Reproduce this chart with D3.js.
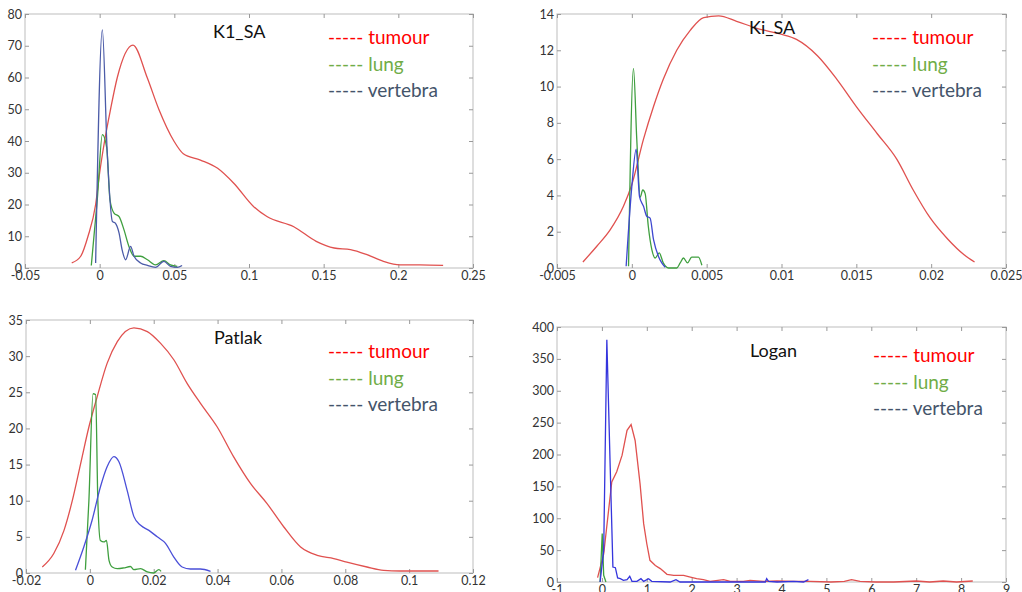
<!DOCTYPE html>
<html lang="en">
<head>
  <meta charset="UTF-8">
  <title>kinetic parameter distributions</title>
  <style>
    body { margin: 0; background: #fff; }
    svg { display: block; }
    .tick text { font-family: Lato, "Open Sans", sans-serif; font-size: 12.5px; fill: #333; }
    .title { font-family: Lato, "Open Sans", sans-serif; font-size: 18px; fill: #111; }
    .legend text { font-family: Lato, "Open Sans", sans-serif; font-size: 19px; }
  </style>
</head>
<body>
<script src="https://d3js.org/d3.v7.min.js"></script>
<script>
  // K1_SA
  const k1Tumour = [[-0.0187,1.6],[-0.0127,3.7],[-0.0078,10],[-0.0027,20],[0,30],[0.0033,40],[0.0073,50],[0.0118,60],
    [0.0223,70.2],[0.0318,60],[0.0396,50],[0.0497,40],[0.056,36],[0.0675,34],[0.079,31.4],[0.0898,26.7],[0.103,19.4],
    [0.112,16.2],[0.13,13],[0.145,8.4],[0.157,6.3],[0.168,5.8],[0.179,4.2],[0.19,2.1],[0.201,1],[0.2145,1],[0.23,0.8]]
  const k1Lung = [[-0.0056,0.8],[-0.0016,21.5],[0.0018,42],[0.0047,38],[0.0069,21.5],[0.0096,17.3],[0.013,16.2],
    [0.0163,12],[0.0196,6.8],[0.023,3.7],[0.0274,3.7],[0.032,2.6],[0.0374,1],[0.043,2.3],[0.0474,1],[0.052,0.5]]
  const k1Vert = [[-0.0027,1.6],[0.0018,75],[0.005,37],[0.0085,14.7],[0.0107,14],[0.013,11],[0.015,5.8],[0.0174,2.6],
    [0.0207,6.8],[0.023,3.7],[0.0274,1.6],[0.032,0.8],[0.0374,0.2],[0.043,2.1],[0.0474,0.5],[0.052,0.2],[0.0552,0.8]]

  // Ki_SA
  const kiTumour = [[-0.00327,0.33],[-0.00234,1.2],[-0.00145,2.1],[-0.00056,3.4],[0,4.6],[0.00078,7.1],[0.00145,8.9],
    [0.0021,10.4],[0.003,12],[0.0039,13.1],[0.0048,13.8],[0.0058,13.9],[0.007,13.6],[0.0084,13.2],[0.0099,12.9],
    [0.011,12.6],[0.0124,11.7],[0.0137,10.4],[0.015,8.9],[0.0164,7.4],[0.0177,6.0],[0.0188,4.3],[0.0199,2.8],
    [0.0211,1.6],[0.0222,0.73],[0.0229,0.33]]
  const kiLung = [[-0.00022,0.1],[0.00011,11],[0.00033,7.1],[0.00056,3.9],[0.00073,4.3],[0.00089,4.1],[0.0011,2.3],
    [0.00134,1],[0.00156,0.55],[0.00183,0.83],[0.0021,0.28],[0.00245,0],[0.003,0],[0.00323,0.28],[0.00345,0.55],
    [0.00372,0.28],[0.004,0.6],[0.00445,0.6],[0.00468,0.15]]
  const kiVert = [[-0.00038,0.1],[0,4.5],[0.00029,6.55],[0.00051,3.95],[0.00078,3.4],[0.001,2.85],[0.00122,2.75],
    [0.00145,1.56],[0.00178,0.64],[0.002,0.28],[0.00223,0.04]]

  // Patlak
  const patTumour = [[-0.0149,0.83],[-0.0113,2.7],[-0.0081,5.9],[-0.0055,10],[-0.0029,15.1],[-0.0003,20.2],[0.0023,24.4],
    [0.0054,29],[0.0086,32],[0.0138,33.9],[0.018,33.4],[0.0221,31.8],[0.0263,29.5],[0.0305,26.2],[0.0346,23.5],
    [0.0399,20.2],[0.045,16.1],[0.0503,12.4],[0.0555,9.6],[0.0607,6.4],[0.066,3.6],[0.0712,2.45],[0.0764,2],
    [0.0805,1.5],[0.0868,0.83],[0.092,0.37],[0.0972,0.28],[0.1092,0.28]]
  const patLung = [[-0.0014,0.46],[-0.0003,10],[0.001,24.8],[0.0018,24.7],[0.0025,10],[0.0033,4.5],[0.0044,4.3],
    [0.0052,4.5],[0.006,1.75],[0.007,0.83],[0.0086,0.6],[0.0106,0.7],[0.0127,0.9],[0.0138,0.46],[0.0159,0.6],
    [0.018,0.14],[0.02,0],[0.0216,0.46],[0.0223,0.23]]
  const patVert = [[-0.0045,0.37],[-0.0019,3.6],[0.0007,7.3],[0.0033,11.9],[0.0054,14.7],[0.0075,16.1],[0.0091,15.4],
    [0.0117,11.4],[0.0138,7.8],[0.0159,6.6],[0.0185,5.9],[0.0211,5],[0.0237,4.1],[0.0263,2.2],[0.0289,0.83],
    [0.0315,0.55],[0.0346,0.55],[0.0378,0.23]]

  // Logan
  const loganTumour = [[-0.096,6.8],[0.04,44],[0.22,157],[0.33,173],[0.45,199],[0.56,238],[0.65,247],[0.74,222],
    [0.85,154],[0.93,91.5],[1.0,60],[1.07,34],[1.19,26],[1.3,21],[1.45,12],[1.6,10.5],[1.82,10.5],[1.97,7.8],
    [2.11,5.2],[2.26,3.7],[2.41,1],[2.71,3.7],[2.86,1],[3.15,1],[3.3,2.6],[3.6,1],[3.9,1.6],[4.27,1],[4.64,1],
    [5.1,0],[5.4,1],[5.56,3.7],[5.75,1],[6.1,0],[6.5,0],[7.0,1.6],[7.3,0],[7.6,1.6],[7.9,0],[8.26,1.6]]
  const loganLung = [[-0.04,0],[0.007,76],[0.04,10.5],[0.09,0]]
  const loganVert = [[-0.04,0],[0.04,50],[0.11,380],[0.185,180],[0.245,23.5],[0.3,22.5],[0.35,6.3],[0.41,5.2],
    [0.48,2.6],[0.56,3.7],[0.62,8.9],[0.67,1],[0.78,1],[0.87,5.2],[0.93,1],[1.04,5.2],[1.11,1],[1.52,0],[1.65,3.7],
    [1.74,0],[2.41,0],[3.15,0],[3.64,0],[3.67,5.2],[3.71,1],[3.9,0],[4.27,1],[4.49,0],[4.6,3.7]]

  const legendLabels = ['tumour', 'lung', 'vertebra']
  const legendColors = ['#ff0000', '#70ad47', '#44546a']

  const panels = [
    { title: 'K1_SA', x: [-0.05, 0.25], xStep: 0.05, y: [0, 80], yStep: 10,
      box: [25, 14, 473, 268], titlePos: [213, 38], legendPos: [328, 44],
      series: [k1Tumour, k1Lung, k1Vert], colors: ['#e0514f', '#3f9f3f', '#4b5ba8'], curve: d3.curveMonotoneX },
    { title: 'Ki_SA', x: [-0.005, 0.025], xStep: 0.005, y: [0, 14], yStep: 2,
      box: [557, 14, 1006, 268], titlePos: [749, 34], legendPos: [872, 44],
      series: [kiTumour, kiLung, kiVert], colors: ['#e0514f', '#3f9f3f', '#3e48d0'], curve: d3.curveMonotoneX },
    { title: 'Patlak', x: [-0.02, 0.12], xStep: 0.02, y: [0, 35], yStep: 5,
      box: [26, 320, 473, 573], titlePos: [214, 344], legendPos: [328, 358],
      series: [patTumour, patLung, patVert], colors: ['#e0514f', '#3f9f3f', '#4a4fd8'], curve: d3.curveMonotoneX },
    { title: 'Logan', x: [-1, 9], xStep: 1, y: [0, 400], yStep: 50,
      box: [557, 327, 1006, 582], titlePos: [750, 357], legendPos: [873, 362],
      series: [loganTumour, loganLung, loganVert], colors: ['#e0514f', '#3f9f3f', '#3535dd'], curve: d3.curveLinear }
  ]

  const svg = d3.select('body').append('svg')
    .attr('width', 1022)
    .attr('height', 592)

  const fmt = d => String(+d.toFixed(4))

  panels.forEach(p => {
    const [x0, y0, x1, y1] = p.box
    const xScale = d3.scaleLinear().domain(p.x).range([x0, x1])
    const yScale = d3.scaleLinear().domain(p.y).range([y1, y0])
    const xTicks = d3.range(p.x[0], p.x[1] + p.xStep / 2, p.xStep)
    const yTicks = d3.range(p.y[0], p.y[1] + p.yStep / 2, p.yStep)

    const g = svg.append('g')

    // frame
    g.append('rect')
      .attr('x', x0).attr('y', y0)
      .attr('width', x1 - x0).attr('height', y1 - y0)
      .attr('fill', 'none').attr('stroke', '#c8c8c8').attr('stroke-width', 1.2)

    // axes with inward ticks on every side
    const axes = [
      [d3.axisBottom(xScale).tickValues(xTicks).tickSizeInner(-4).tickSizeOuter(0).tickPadding(3).tickFormat(fmt), `translate(0,${y1})`],
      [d3.axisTop(xScale).tickValues(xTicks).tickSizeInner(-4).tickSizeOuter(0).tickFormat(''), `translate(0,${y0})`],
      [d3.axisLeft(yScale).tickValues(yTicks).tickSizeInner(-4).tickSizeOuter(0).tickPadding(3).tickFormat(fmt), `translate(${x0},0)`],
      [d3.axisRight(yScale).tickValues(yTicks).tickSizeInner(-4).tickSizeOuter(0).tickFormat(''), `translate(${x1},0)`]
    ]
    axes.forEach(([ax, tr]) => {
      const a = g.append('g').attr('transform', tr).call(ax)
      a.select('.domain').remove()
      a.selectAll('.tick line').attr('stroke', '#999')
    })

    // curves
    const line = d3.line()
      .x(d => xScale(d[0]))
      .y(d => yScale(d[1]))
      .curve(p.curve)
    p.series.forEach((s, i) => {
      g.append('path')
        .datum(s)
        .attr('d', line)
        .attr('fill', 'none')
        .attr('stroke', p.colors[i])
        .attr('stroke-width', 1.3)
    })

    g.append('text')
      .attr('class', 'title')
      .attr('x', p.titlePos[0]).attr('y', p.titlePos[1])
      .text(p.title)

    const lg = g.append('g').attr('class', 'legend')
    legendLabels.forEach((lab, i) => {
      lg.append('text')
        .attr('x', p.legendPos[0]).attr('y', p.legendPos[1] + i * 26.5)
        .attr('fill', legendColors[i])
        .text('----- ' + lab)
    })
  })
</script>
</body>
</html>
